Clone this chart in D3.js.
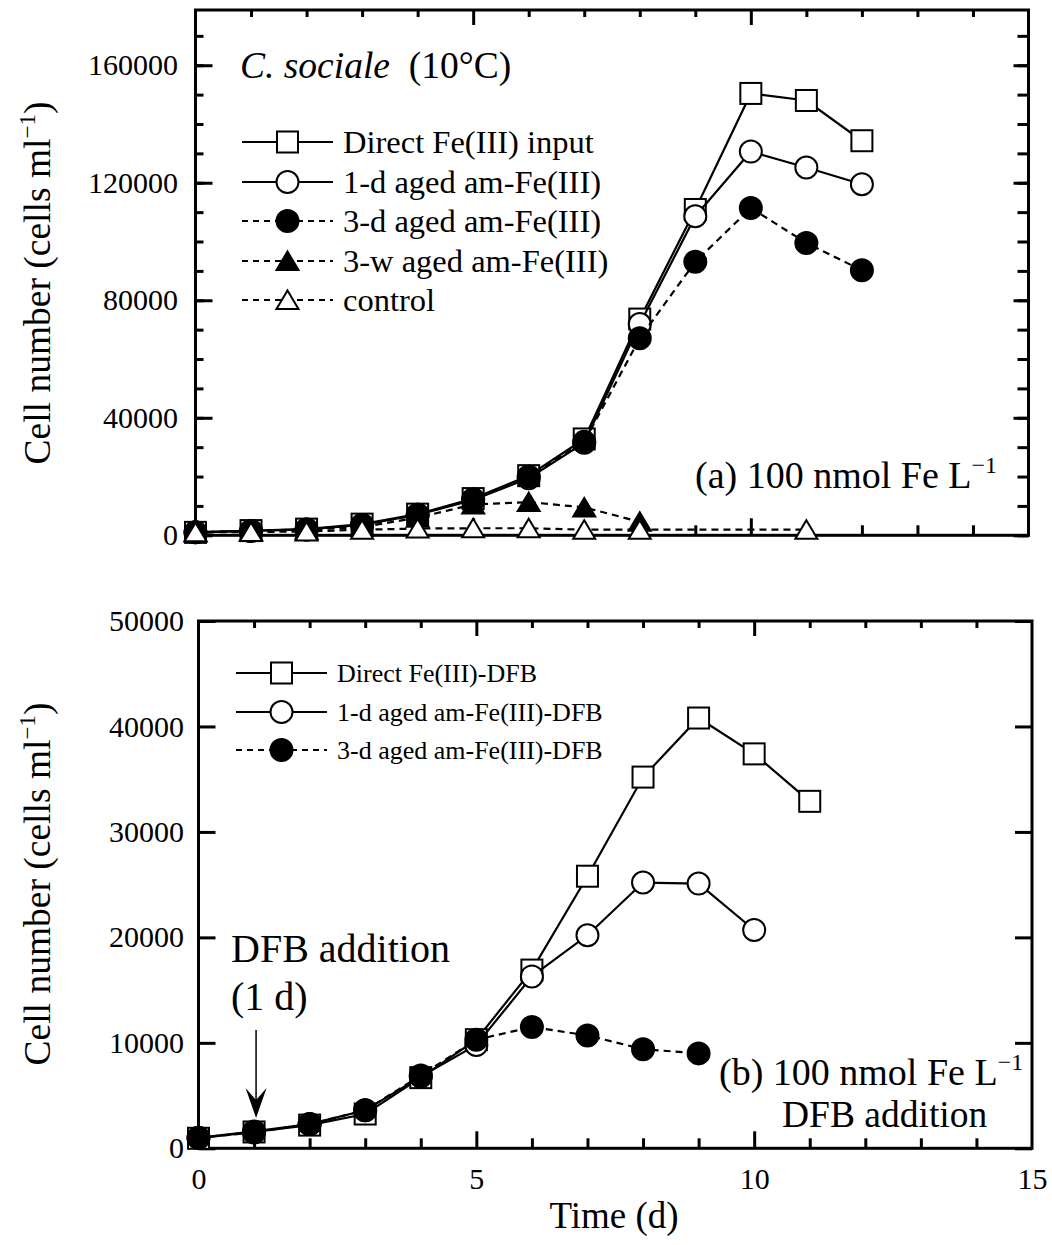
<!DOCTYPE html>
<html>
<head>
<meta charset="utf-8">
<script src="https://cdn.jsdelivr.net/npm/d3@7"></script>
<style>
  body { margin: 0; background: #fff; }
  svg { display: block; }
  text { font-family: 'Liberation Serif', 'Times New Roman', Times, serif; fill: #000; }
</style>
</head>
<body>
<script>
// panel (a) data: cell number (cells/ml) vs time (d)
var daysA = [0, 1, 2, 3, 4, 5, 6, 7, 8, 9, 10, 11, 12]
var directA = [1000, 1600, 2100, 3800, 7200, 12500, 20300, 32800, 73600, 110900, 150400, 148000, 134300]
var aged1dA = [1000, 1500, 2000, 3500, 7000, 12000, 19400, 31500, 71900, 108600, 130600, 125200, 119500]
var aged3dA = [1000, 1500, 2000, 3500, 7000, 12300, 20000, 31800, 67100, 93100, 111400, 99500, 90200]
var days3wA = [0, 1, 2, 3, 4, 5, 6, 7, 8]
var aged3wA = [1000, 1400, 1900, 2800, 6000, 10500, 11300, 9500, 4600]
var daysCtrlA = [0, 1, 2, 3, 4, 5, 6, 7, 8, 11]
var controlA = [1000, 1100, 1300, 1900, 2300, 2400, 2400, 1900, 1900, 1900]

// panel (b) data
var daysB = [0, 1, 2, 3, 4, 5, 6, 7, 8, 9, 10, 11]
var directB = [950, 1550, 2200, 3250, 6700, 10300, 16900, 25800, 35200, 40800, 37400, 32900]
var aged1dB = [1000, 1600, 2300, 3600, 6800, 9800, 16300, 20200, 25200, 25100, 20700]
var aged3dB = [1000, 1500, 2300, 3600, 6900, 10300, 11500, 10700, 9400, 9000]

var yTicksA = [0, 40000, 80000, 120000, 160000]
var yTicksB = [0, 10000, 20000, 30000, 40000, 50000]
var xTicks = [0, 5, 10, 15]

var legendA = ['Direct Fe(III) input', '1-d aged am-Fe(III)', '3-d aged am-Fe(III)', '3-w aged am-Fe(III)', 'control']
var legendB = ['Direct Fe(III)-DFB', '1-d aged am-Fe(III)-DFB', '3-d aged am-Fe(III)-DFB']

var W = 1052, H = 1245
var svg = d3.select('body').append('svg').attr('width', W).attr('height', H)

var xA = d3.scaleLinear().domain([0, 15]).range([195.5, 1028.5])
var yA = d3.scaleLinear().domain([0, 178800]).range([535.3, 10])
var xB = d3.scaleLinear().domain([0, 15]).range([198.5, 1032])
var yB = d3.scaleLinear().domain([0, 50000]).range([1148.3, 621])

// pair values with their days (series can be shorter than the day list)
function zip(days, vals) {
  return vals.map(function(v, i) { return { x: days[i], y: v } })
}

// markers, all centred on 0,0
function marker(g, type) {
  if (type == 'square') {
    g.append('rect').attr('x', -10.5).attr('y', -10.5).attr('width', 21).attr('height', 21)
      .attr('fill', '#fff').attr('stroke', '#000').attr('stroke-width', 2)
  } else if (type == 'circle' || type == 'disc') {
    g.append('circle').attr('r', 11)
      .attr('fill', type == 'disc' ? '#000' : '#fff').attr('stroke', '#000').attr('stroke-width', 2)
  } else {
    g.append('path').attr('d', 'M0,-9.5L11,9L-11,9Z')
      .attr('fill', type == 'tri' ? '#000' : '#fff').attr('stroke', '#000').attr('stroke-width', 2)
      .attr('stroke-linejoin', 'miter')
  }
}

function drawSeries(x, y, data, type, dashed) {
  var line = d3.line().x(function(d) { return x(d.x) }).y(function(d) { return y(d.y) })
  svg.append('path').datum(data).attr('d', line)
    .attr('fill', 'none').attr('stroke', '#000').attr('stroke-width', 2.2)
    .attr('stroke-dasharray', dashed ? '7,5' : null)
  svg.append('g').selectAll('g').data(data).enter().append('g')
    .attr('transform', function(d) { return 'translate(' + x(d.x) + ',' + y(d.y) + ')' })
    .each(function() { marker(d3.select(this), type) })
}

function drawFrame(x, y, yMinor, yMajor, ySideLen, xLabels, labelRight) {
  var x0 = x.range()[0], x1 = x.range()[1], y0 = y.range()[0], y1 = y.range()[1]
  var g = svg.append('g')
  // left ticks
  g.append('g').attr('transform', 'translate(' + x0 + ',0)')
    .call(d3.axisLeft(y).tickValues(yMinor).tickSize(-ySideLen[0]).tickFormat(''))
  g.append('g').attr('transform', 'translate(' + x0 + ',0)')
    .call(d3.axisLeft(y).tickValues(yMajor).tickSize(-ySideLen[1]).tickPadding(x0 - labelRight)
      .tickFormat(d3.format('d')))
  // right ticks
  g.append('g').attr('transform', 'translate(' + x1 + ',0)')
    .call(d3.axisRight(y).tickValues(yMinor).tickSize(-ySideLen[2]).tickFormat(''))
  g.append('g').attr('transform', 'translate(' + x1 + ',0)')
    .call(d3.axisRight(y).tickValues(yMajor).tickSize(-ySideLen[3]).tickFormat(''))
  // top ticks
  var days = d3.range(1, 15)
  g.append('g').attr('transform', 'translate(0,' + y1 + ')')
    .call(d3.axisTop(x).tickValues(days.filter(function(d) { return d % 5 })).tickSize(-7).tickFormat(''))
  g.append('g').attr('transform', 'translate(0,' + y1 + ')')
    .call(d3.axisTop(x).tickValues([5, 10]).tickSize(-15).tickFormat(''))
  // bottom ticks
  g.append('g').attr('transform', 'translate(0,' + y0 + ')')
    .call(d3.axisBottom(x).tickValues(days.filter(function(d) { return d % 5 })).tickSize(-10).tickFormat(''))
  var bx = g.append('g').attr('transform', 'translate(0,' + y0 + ')')
    .call(d3.axisBottom(x).tickValues(xLabels ? xTicks : [5, 10]).tickSize(-17).tickPadding(19)
      .tickFormat(xLabels ? d3.format('d') : ''))
  bx.selectAll('.tick line').filter(function(d) { return d == 0 || d == 15 }).remove()

  g.selectAll('.domain').remove()
  g.selectAll('.tick line').attr('stroke', '#000').attr('stroke-width', 3)
  g.selectAll('.tick text').style('font-family', null).attr('font-size', 30)
  svg.append('rect').attr('x', x0).attr('y', y1).attr('width', x1 - x0).attr('height', y0 - y1)
    .attr('fill', 'none').attr('stroke', '#000').attr('stroke-width', 3)
}

drawFrame(xA, yA, d3.range(0, 178000, 10000), yTicksA, [8, 17, 11, 15], false, 178)
drawFrame(xB, yB, [], yTicksB, [0, 17, 0, 17], true, 184)

// series, panel (a)
drawSeries(xA, yA, zip(daysA, directA), 'square', false)
drawSeries(xA, yA, zip(daysA, aged1dA), 'circle', false)
drawSeries(xA, yA, zip(daysA, aged3dA), 'disc', true)
drawSeries(xA, yA, zip(days3wA, aged3wA), 'tri', true)
drawSeries(xA, yA, zip(daysCtrlA, controlA), 'otri', true)

// series, panel (b)
drawSeries(xB, yB, zip(daysB, directB), 'square', false)
drawSeries(xB, yB, zip(daysB, aged1dB), 'circle', false)
drawSeries(xB, yB, zip(daysB, aged3dB), 'disc', true)

// legends
function drawLegend(names, types, dashes, lx0, lx1, tx, rowY, fs) {
  names.forEach(function(name, i) {
    var g = svg.append('g')
    g.append('line').attr('x1', lx0).attr('x2', lx1).attr('y1', rowY[i]).attr('y2', rowY[i])
      .attr('stroke', '#000').attr('stroke-width', 2).attr('stroke-dasharray', dashes[i] ? '6,5' : null)
    marker(g.append('g').attr('transform', 'translate(' + ((lx0 + lx1) / 2) + ',' + rowY[i] + ')'), types[i])
    g.append('text').attr('x', tx).attr('y', rowY[i]).attr('dy', '0.35em').attr('font-size', fs).text(name)
  })
}
drawLegend(legendA, ['square', 'circle', 'disc', 'tri', 'otri'], [false, false, true, true, true],
  242, 333, 343, [142, 182, 221, 261, 300], 32.5)
drawLegend(legendB, ['square', 'circle', 'disc'], [false, false, true],
  236, 327, 337, [673, 712, 750], 26)

// titles and panel labels
var t = svg.append('text').attr('x', 240).attr('y', 78).attr('font-size', 37.5)
t.append('tspan').attr('font-style', 'italic').text('C. sociale')
t.append('tspan').text('\u00a0\u00a0(10\u00b0C)')

function supLabel(x, y, pre) {
  var s = svg.append('text').attr('x', x).attr('y', y).attr('font-size', 38)
  s.append('tspan').text(pre)
  s.append('tspan').attr('dy', -15).attr('font-size', 24).text('\u22121')
  return s
}
supLabel(695, 488, '(a) 100 nmol Fe L')
supLabel(719, 1085, '(b) 100 nmol Fe L')
svg.append('text').attr('x', 782).attr('y', 1127).attr('font-size', 37.5).text('DFB addition')

// y axis titles
function yTitle(cy) {
  var s = svg.append('text').attr('transform', 'translate(50,' + cy + ') rotate(-90)')
    .attr('text-anchor', 'middle').attr('font-size', 37.5)
  s.append('tspan').text('Cell number (cells ml')
  s.append('tspan').attr('dy', -15).attr('font-size', 23).text('\u22121')
  s.append('tspan').attr('dy', 15).text(')')
}
yTitle(283)
yTitle(884)

svg.append('text').attr('x', 614).attr('y', 1228).attr('text-anchor', 'middle').attr('font-size', 37).text('Time (d)')

// DFB addition annotation and arrow at day 1
var ax = xB(1) + 2
svg.append('text').attr('x', 231).attr('y', 962).attr('font-size', 40).text('DFB addition')
svg.append('text').attr('x', 231).attr('y', 1010).attr('font-size', 40).text('(1 d)')
svg.append('line').attr('x1', ax).attr('x2', ax).attr('y1', 1030).attr('y2', 1102)
  .attr('stroke', '#000').attr('stroke-width', 1.5)
svg.append('path').attr('d', 'M' + ax + ',1118L' + (ax - 10.5) + ',1088L' + ax + ',1100L' + (ax + 10.5) + ',1088Z')
  .attr('fill', '#000')
</script>
</body>
</html>
